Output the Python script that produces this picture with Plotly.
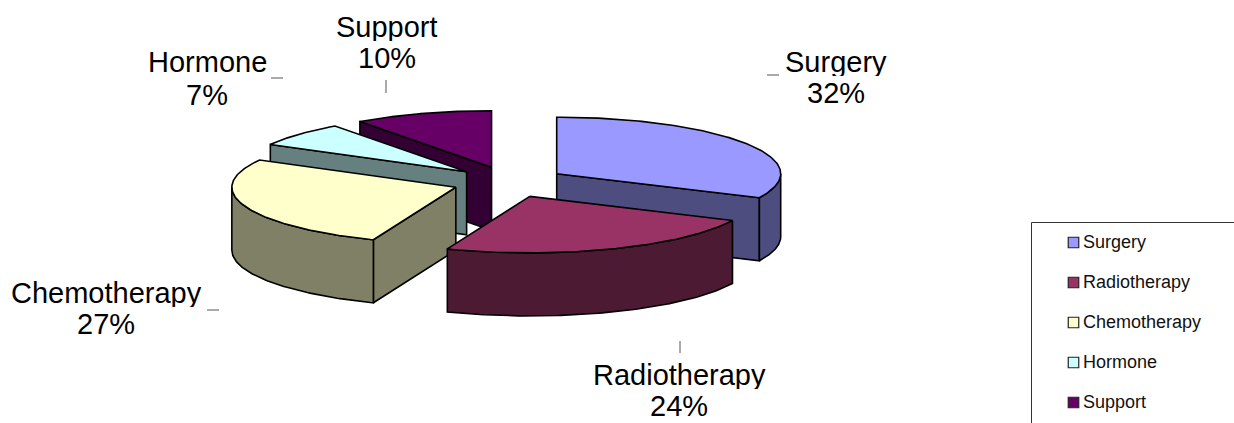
import numpy as np
import plotly.graph_objects as go

categories = ["Surgery", "Radiotherapy", "Chemotherapy", "Hormone", "Support"]
percent = [32, 24, 27, 7, 10]
top_colors = ["#9999FF", "#993366", "#FFFFCC", "#CCFFFF", "#660066"]
side_colors = ["#4D4D80", "#4D1A33", "#808066", "#668080", "#330033"]

# projection of the tilted pie (pixels on hidden axes)
CX, CY = 509, 182
RX, RY = 224, 56.5
DEPTH = 63
EXPLODE_X, EXPLODE_Y = 56.5, 15.5
LINE = dict(color="#000000", width=1.6)

# label centres: name line, percent line
label_x = [836, 679, 106, 207, 387]
label_y1 = [62, 375, 293, 62, 27]
label_y2 = [93, 406, 324, 95, 58]
# leader ticks
leaders = [(767, 75, 779, 75), (680, 341, 680, 353), (207, 310, 219, 310),
           (271, 78, 283, 78), (386, 80, 386, 93)]
draw_order = [4, 3, 0, 2, 1]

total = sum(percent)
edges = np.cumsum([0] + percent) / total * 2 * np.pi

fig = go.Figure()


def poly(xs, ys, color):
    fig.add_trace(go.Scatter(x=list(xs), y=list(ys), mode="lines", fill="toself",
                             fillcolor=color, line=LINE, showlegend=False,
                             hoverinfo="skip"))


for i in draw_order:
    a, b = edges[i], edges[i + 1]
    mid = (a + b) / 2
    ax = CX + EXPLODE_X * np.sin(mid)
    ay = CY - EXPLODE_Y * np.cos(mid)
    px = lambda t: ax + RX * np.sin(t)
    py = lambda t: ay - RY * np.cos(t)
    # radial side faces that look towards the viewer
    for t, visible in ((a, np.sin(a) < -1e-6), (b, np.sin(b) > 1e-6)):
        if visible:
            poly([ax, px(t), px(t), ax, ax],
                 [ay, py(t), py(t) + DEPTH, ay + DEPTH, ay], side_colors[i])
    # outer wall, only the front half of the rim
    lo, hi = max(a, np.pi / 2), min(b, 3 * np.pi / 2)
    if hi > lo:
        t = np.linspace(lo, hi, 80)
        poly(np.r_[px(t), px(t)[::-1], px(t)[0]],
             np.r_[py(t), py(t)[::-1] + DEPTH, py(t)[0]], side_colors[i])
    # top face
    t = np.linspace(a, b, 120)
    poly(np.r_[ax, px(t), ax], np.r_[ay, py(t), ay], top_colors[i])

# legend
LEG_X, LEG_Y0, LEG_STEP = 1073.5, 242.5, 40
leg_y = [LEG_Y0 + LEG_STEP * k for k in range(len(categories))]
fig.add_trace(go.Scatter(x=[LEG_X] * len(categories), y=leg_y, mode="markers",
                         marker=dict(symbol="square", size=10.5, color=top_colors,
                                     line=dict(color="#222222", width=1.2)),
                         showlegend=False, hoverinfo="skip"))
annotations = []
for k, name in enumerate(categories):
    annotations.append(dict(x=1081, y=leg_y[k] - 1, text=name, xanchor="left", yanchor="middle",
                            showarrow=False, font=dict(size=18, color="#111111")))
    annotations.append(dict(x=label_x[k], y=label_y1[k], text=name, xanchor="center", height=28,
                            yanchor="middle", showarrow=False, font=dict(size=29, color="#000000")))
    annotations.append(dict(x=label_x[k], y=label_y2[k], text=f"{percent[k]}%", xanchor="center", height=28,
                            yanchor="middle", showarrow=False, font=dict(size=29, color="#000000")))

shapes = [dict(type="line", x0=x0, y0=y0, x1=x1, y1=y1, line=dict(color="#555555", width=1))
          for x0, y0, x1, y1 in leaders]
shapes.append(dict(type="line", x0=1031.5, y0=222.5, x1=1234, y1=222.5, line=dict(color="#333333", width=1)))
shapes.append(dict(type="line", x0=1031.5, y0=222.5, x1=1031.5, y1=423, line=dict(color="#333333", width=1)))

hidden = dict(visible=False, showgrid=False, zeroline=False)
fig.update_layout(
    width=1234, height=423, margin=dict(l=0, r=0, t=0, b=0),
    paper_bgcolor="#FFFFFF", plot_bgcolor="#FFFFFF",
    font=dict(family="Liberation Sans, Arial, sans-serif"),
    xaxis=dict(range=[0, 1234], **hidden),
    yaxis=dict(range=[423, 0], **hidden),
    annotations=annotations, shapes=shapes, showlegend=False,
)
fig.write_html("out.html", config=dict(displayModeBar=False),
               post_script="document.body.style.margin='0';document.documentElement.style.overflow='hidden';")
